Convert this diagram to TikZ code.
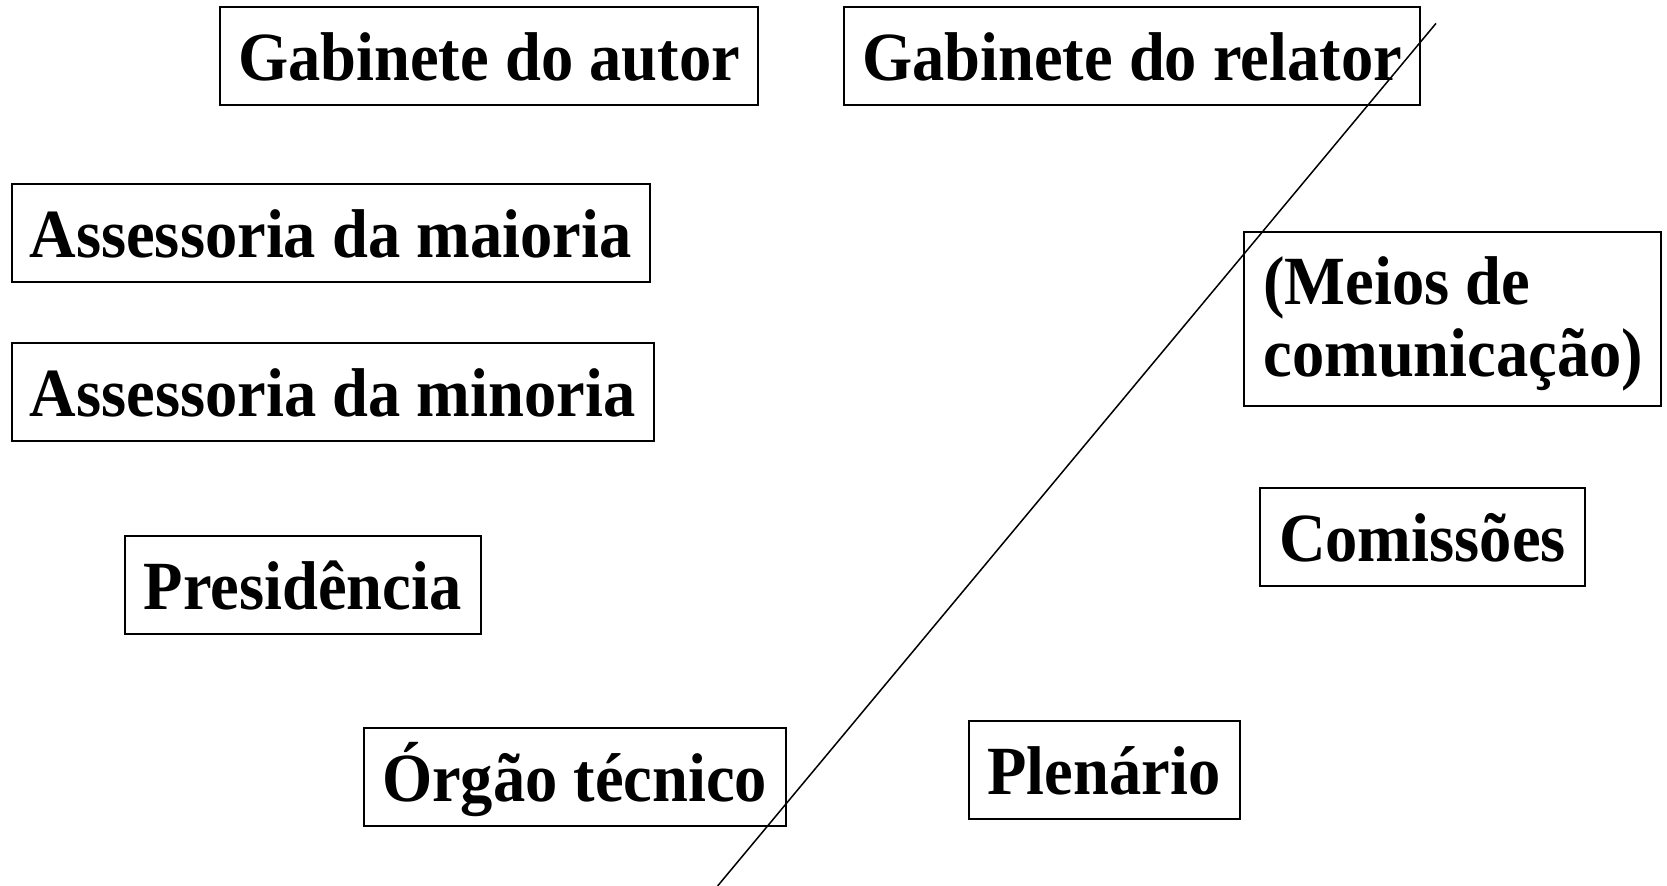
\documentclass[tikz,border=0pt]{standalone}
\usepackage{fontspec}
\setmainfont[FakeStretch=0.935]{Liberation Serif}
\begin{document}
\begin{tikzpicture}[x=0.5pt,y=-0.5pt,
  box/.style={draw=black, line width=1pt, inner sep=0pt, minimum height=48.9pt,
    font=\fontsize{34.5}{36}\selectfont\bfseries, text height=27pt, text depth=2.5pt},
  lbl/.style={inner sep=0pt, font=\fontsize{34.5}{36}\selectfont\bfseries, anchor=base west},
  divider/.style={draw=black, line width=0.75pt}]
\useasboundingbox (0,0) rectangle (1667,886);
\node[box, minimum width=269pt] (autor) at (489,56.3) {Gabinete do autor};
\node[box, minimum width=288pt] (relator) at (1132,56.3) {Gabinete do relator};
\node[box, minimum width=319pt] (maioria) at (330.6,232.8) {Assessoria da maioria};
\node[box, minimum width=321pt] (minoria) at (332.7,392.3) {Assessoria da minoria};
\node[box, minimum width=208.3pt, minimum height=87.1pt] (meios) at (1452.3,318.9) {};
\node[lbl] (meios1) at (1263,305) {(Meios de};
\node[lbl] (meios2) at (1263,377) {comunicação)};
\node[box, minimum width=162.6pt] (comissoes) at (1422.4,536.9) {Comissões};
\node[box, minimum width=178pt] (presidencia) at (302.5,584.7) {Presidência};
\node[box, minimum width=211pt] (orgao) at (574.6,777.1) {Órgão técnico};
\node[box, minimum width=135.5pt] (plenario) at (1104,769.7) {Plenário};
\coordinate (ltop) at (1436,23.4);
\coordinate (lbot) at (717.6,886);
\draw[divider] (ltop) -- (lbot);
\end{tikzpicture}
\end{document}
